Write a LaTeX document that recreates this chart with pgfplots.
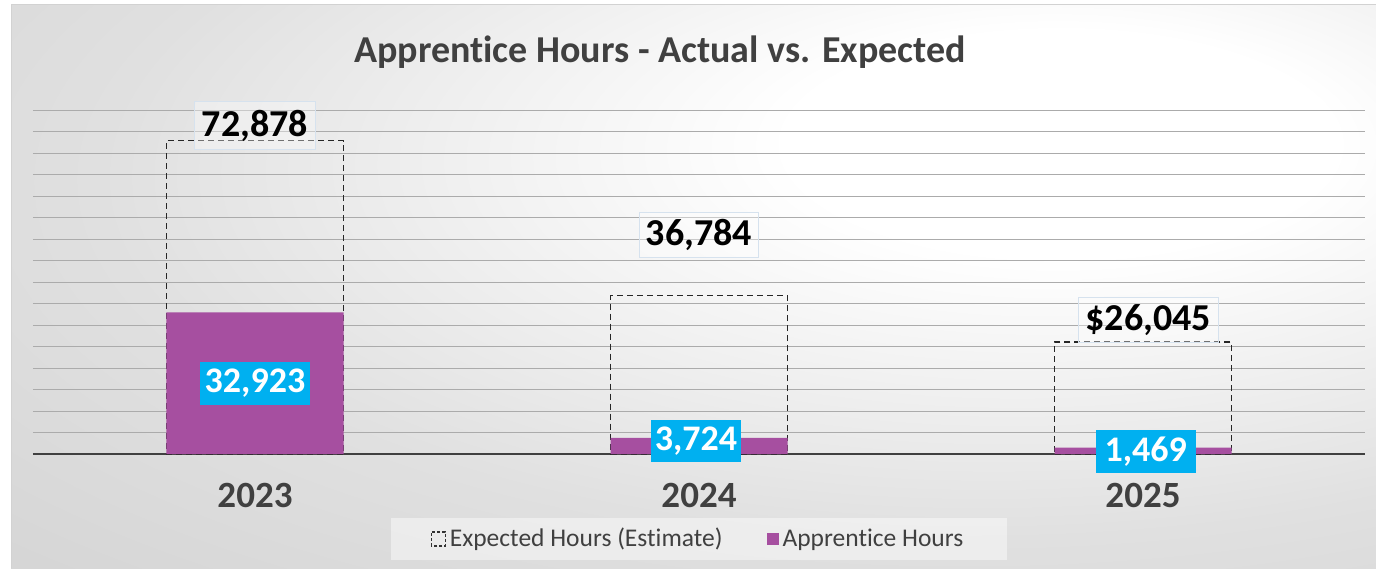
\documentclass[border=0pt]{standalone}
\usepackage{fontspec}
\setmainfont{Carlito}[Ligatures={NoCommon}]
\usepackage{pgfplots}
\pgfplotsset{compat=1.18}
\definecolor{purp}{HTML}{A64FA0}
\definecolor{cyanlab}{HTML}{00B0F0}
\definecolor{dgray}{HTML}{404040}
\definecolor{gridc}{HTML}{ABABAB}
\definecolor{bg1}{HTML}{E0E0E0}
\definecolor{bg2}{HTML}{CDCDCD}
\definecolor{bg3}{HTML}{C2C2C2}
\definecolor{lblborder}{HTML}{D6E2EE}
\pgfdeclareradialshading{bgshade}{\pgfpoint{15bp}{14bp}}{color(0bp)=(white); color(10bp)=(white); color(32bp)=(bg1); color(58bp)=(bg2); color(100bp)=(bg3)}
\begin{document}
\begin{tikzpicture}
\useasboundingbox (0,0) rectangle (688pt,285pt);
\fill[white] (0,0) rectangle (688pt,285pt);
\shade[shading=bgshade] (5.5pt,1pt) rectangle (688pt,283pt);
\draw[gray!35, line width=0.5pt] (5.5pt,1pt) -- (5.5pt,283pt) -- (688pt,283pt);
\node[font=\bfseries\fontsize{19}{22}\selectfont, text=dgray] at (330pt,259pt) {Apprentice Hours - Actual vs. Expected};
\begin{axis}[
  at={(16.5pt,58pt)}, anchor=south west,
  scale only axis, width=666pt, height=172pt,
  xmin=-0.5, xmax=2.5, ymin=0, ymax=80000,
  axis line style={draw=none},
  xtick={0,1,2}, xticklabels={2023,2024,2025},
  xticklabel style={font=\bfseries\fontsize{18.5}{22}\selectfont, text=dgray, yshift=-11pt},
  major tick length=0pt,
  scaled y ticks=false,
  ytick={5000,10000,...,80000}, yticklabels={},
  ymajorgrids, grid style={gridc, line width=0.5pt},
  extra y ticks={0}, extra y tick labels={}, extra y tick style={grid style={dgray, line width=1pt}},
  legend columns=2,
  legend style={at={(0.5,-0.247)}, anchor=center, draw=none, fill=white, fill opacity=0.45, text opacity=1, font=\fontsize{12.75}{15}\selectfont, text=dgray, inner xsep=20pt, inner ysep=3pt, /tikz/every even column/.append style={column sep=20pt}},
  clip=false,
]
\addplot[ybar, bar width=88.5pt, bar shift=0pt, draw=black!85, line width=0.6pt, dash pattern=on 3pt off 2pt, fill=none,
  legend image code/.code={\draw[black!80, line width=0.6pt, dash pattern=on 1.5pt off 1pt] (0pt,-3.5pt) rectangle (7pt,3.5pt);}]
  coordinates {(0,72878) (1,36784) (2,26045)};
\addlegendentry{Expected Hours (Estimate)}
\addplot[ybar, bar width=88.5pt, bar shift=0pt, draw=none, fill=purp,
  legend image code/.code={\fill[purp, fill opacity=1] (0pt,-3pt) rectangle (6pt,3pt);}]
  coordinates {(0,32923) (1,3724) (2,1469)};
\addlegendentry{Apprentice Hours}
% expected labels
\node[font=\bfseries\fontsize{19}{22}\selectfont, fill=white, fill opacity=0.35, text opacity=1, draw=lblborder, draw opacity=1, line width=0.5pt, minimum width=60pt, minimum height=24pt] at (axis cs:0,76300) {72,878};
\node[font=\bfseries\fontsize{19}{22}\selectfont, fill=white, fill opacity=0.35, text opacity=1, draw=lblborder, draw opacity=1, line width=0.5pt, minimum width=59pt, minimum height=20pt] at (axis cs:1,50900) {36,784};
\node[font=\bfseries\fontsize{19}{22}\selectfont, fill=white, fill opacity=0.35, text opacity=1, draw=lblborder, draw opacity=1, line width=0.5pt, minimum width=70pt, minimum height=22pt] at (axis cs:2.012,31200) {\$26,045};
% actual labels
\node[font=\bfseries\fontsize{18}{22}\selectfont, fill=cyanlab, text=white, minimum width=54.5pt, minimum height=21.5pt, inner sep=2pt] at (axis cs:0,16500) {32,923};
\node[font=\bfseries\fontsize{18}{22}\selectfont, fill=cyanlab, text=white, minimum width=45pt, minimum height=21pt, inner sep=2pt] at (axis cs:0.993,3020) {3,724};
\node[font=\bfseries\fontsize{18}{22}\selectfont, fill=cyanlab, text=white, minimum width=50pt, minimum height=21.5pt, inner sep=2pt] at (axis cs:2.006,470) {1,469};
\end{axis}
\end{tikzpicture}
\end{document}
